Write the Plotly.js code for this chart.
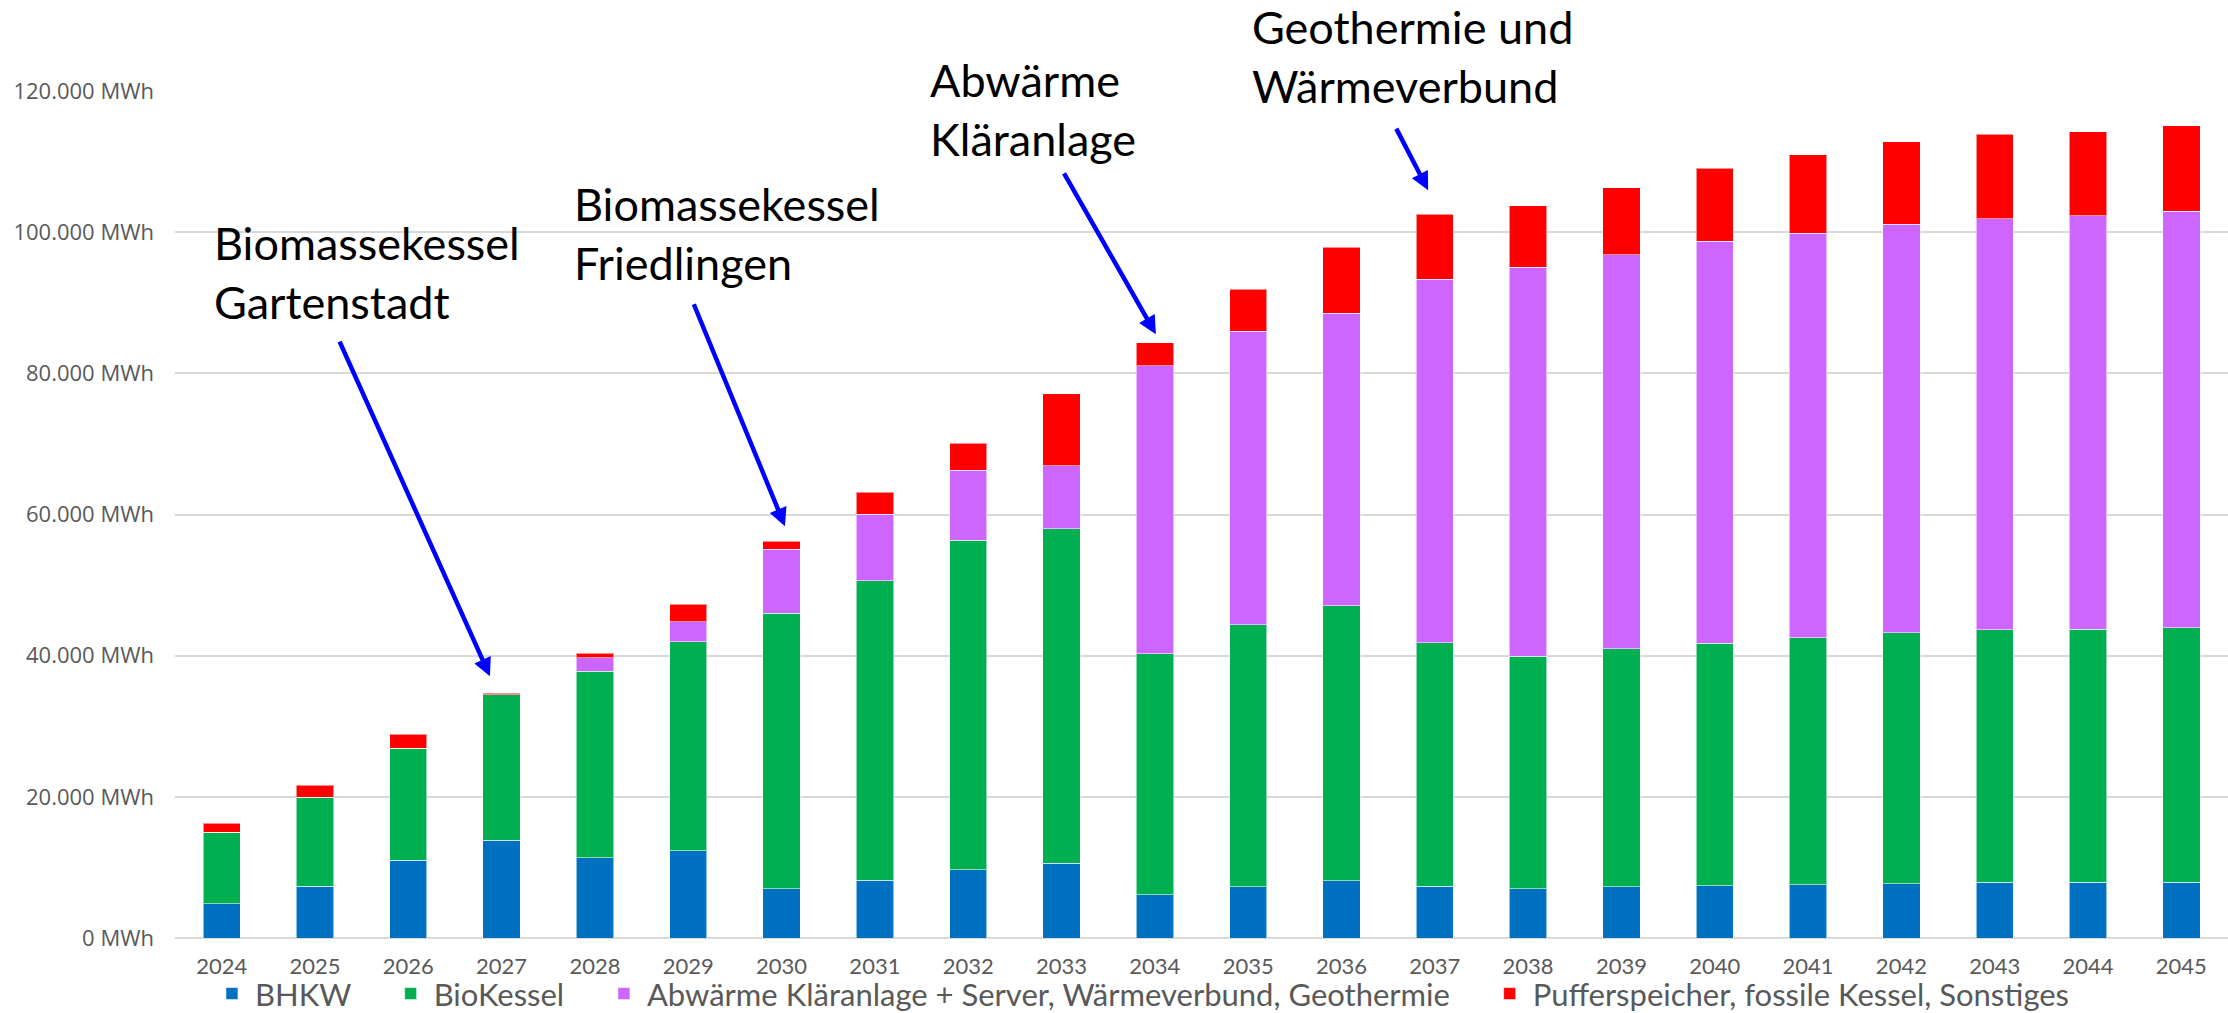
<!DOCTYPE html>
<html>
<head>
<meta charset="utf-8">
<script src="https://cdn.plot.ly/plotly-3.0.1.min.js"></script>
<style>
  html, body { margin: 0; padding: 0; background: #ffffff; }
  #chart { width: 2228px; height: 1013px; }
</style>
</head>
<body>
<div id="chart"></div>
<script>
// ---- Data (MWh) ----
const years = ["2024","2025","2026","2027","2028","2029","2030","2031","2032","2033","2034",
               "2035","2036","2037","2038","2039","2040","2041","2042","2043","2044","2045"];
const bhkw = [4830, 7300, 11000, 13860, 11350, 12340, 7000, 8180, 9670, 10560, 6150,
              7280, 8110, 7300, 7000, 7240, 7400, 7550, 7710, 7870, 7870, 7870];
const bioKessel = [10120, 12610, 15870, 20590, 26410, 29610, 39040, 42440, 46650, 47430, 34130,
                   37110, 38960, 34500, 32890, 33760, 34390, 35020, 35570, 35800, 35880, 36120];
const abwaerme = [0, 0, 0, 0, 1980, 2890, 9060, 9440, 9960, 8890, 40810,
                  41590, 41410, 51530, 55160, 55790, 56890, 57290, 57840, 58230, 58550, 58940];
const puffer = [1280, 1740, 2030, 240, 610, 2410, 1110, 3120, 3820, 10260, 3220,
                5910, 9400, 9210, 8660, 9520, 10390, 11100, 11720, 11960, 11960, 12120];

const seriesNames = ["BHKW", "BioKessel",
  "Abwärme Kläranlage + Server, Wärmeverbund, Geothermie",
  "Pufferspeicher, fossile Kessel, Sonstiges"];
const seriesColors = ["#0070C0", "#00B050", "#CC66FF", "#FF0000"];
const seriesValues = [bhkw, bioKessel, abwaerme, puffer];

// Annotation labels
const noteTexts = ["Biomassekessel<br>Gartenstadt", "Biomassekessel<br>Friedlingen",
                   "Abwärme<br>Kläranlage", "Geothermie und<br>Wärmeverbund"];

// ---- Build traces ----
const pad = "\u00a0\u00a0\u00a0\u00a0";
const traces = seriesValues.map((vals, i) => ({
  type: "bar",
  name: seriesNames[i] + (i < seriesValues.length - 1 ? pad : ""),
  x: years,
  y: vals,
  marker: { color: seriesColors[i], line: { color: "rgba(255,255,255,0.55)", width: 1 } },
  hoverinfo: "x+y+name"
}));

// ---- Annotation layout (text boxes in paper coords, arrows in data coords) ----
const textPos = [
  { x: 0.0180, y: 0.855 },
  { x: 0.1932, y: 0.901 },
  { x: 0.3667, y: 1.047 },
  { x: 0.5238, y: 1.110 }
];
const arrows = [
  { ax: 1.257, ay: 84700, x: 2.875, y: 37100 },
  { ax: 5.053, ay: 90000, x: 6.036, y: 58350 },
  { ax: 9.018, ay: 108550, x: 10.011, y: 85550 },
  { ax: 12.579, ay: 114880, x: 12.929, y: 105950 }
];

const annFont = { family: "Lato, 'Liberation Sans', Arial, sans-serif", size: 45, color: "#000000" };
const annotations = [];
noteTexts.forEach((t, i) => {
  annotations.push({
    text: t, xref: "paper", yref: "paper", x: textPos[i].x, y: textPos[i].y,
    xanchor: "left", yanchor: "top", align: "left", showarrow: false, font: annFont
  });
  annotations.push({
    text: "", xref: "x", yref: "y", axref: "x", ayref: "y",
    x: arrows[i].x, y: arrows[i].y, ax: arrows[i].ax, ay: arrows[i].ay,
    showarrow: true, arrowhead: 2, arrowsize: 0.8, arrowwidth: 4.5, arrowcolor: "#0000FF",
    standoff: 0, startstandoff: 0
  });
});

const layout = {
  width: 2228,
  height: 1013,
  paper_bgcolor: "#ffffff",
  plot_bgcolor: "#ffffff",
  separators: ",.",
  barmode: "stack",
  bargap: 0.6,
  margin: { l: 175, r: 0, t: 91, b: 75, autoexpand: false },
  showlegend: true,
  legend: {
    orientation: "h",
    x: 0.471, xanchor: "center",
    y: -0.066, yanchor: "middle",
    traceorder: "normal",
    itemwidth: 36,
    font: { family: "Lato, 'Liberation Sans', Arial, sans-serif", size: 31, color: "#595959" },
    bgcolor: "rgba(0,0,0,0)"
  },
  xaxis: {
    type: "category",
    showgrid: false,
    showline: false,
    zeroline: false,
    ticks: "",
    ticklabelstandoff: 13,
    tickfont: { family: "Lato, 'Liberation Sans', Arial, sans-serif", size: 22, color: "#595959" },
    automargin: false
  },
  yaxis: {
    range: [0, 120000],
    dtick: 20000,
    tickformat: ",d",
    ticksuffix: " MWh",
    showgrid: true,
    gridcolor: "#d9d9d9",
    gridwidth: 2,
    zeroline: true,
    zerolinecolor: "#d9d9d9",
    zerolinewidth: 2,
    showline: false,
    ticks: "",
    ticklabelstandoff: 20,
    tickfont: { family: "'Open Sans', 'Noto Sans', sans-serif", size: 22, color: "#595959" },
    automargin: false
  },
  annotations: annotations
};

Plotly.newPlot("chart", traces, layout, { staticPlot: true, displayModeBar: false });
</script>
</body>
</html>
